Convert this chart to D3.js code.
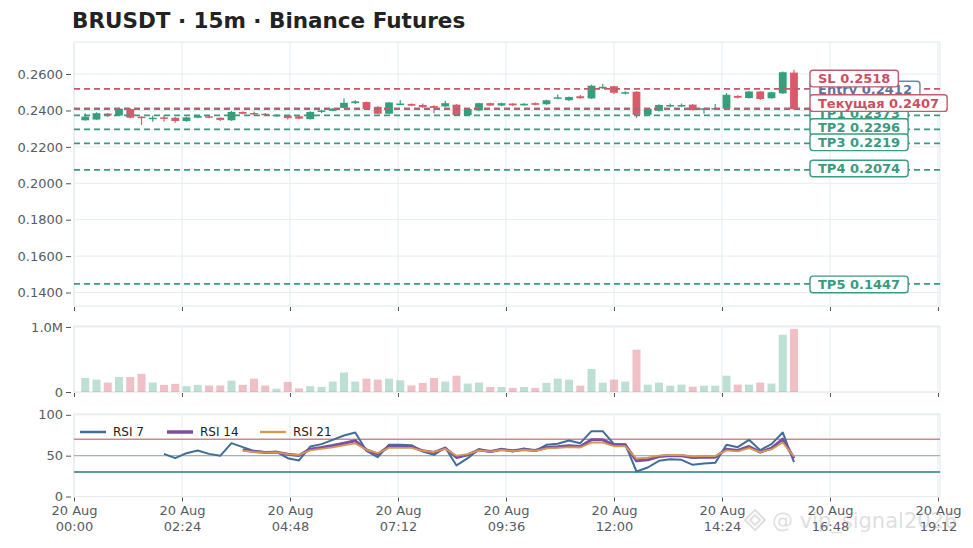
<!DOCTYPE html>
<html><head><meta charset="utf-8">
<script src="https://cdn.jsdelivr.net/npm/d3@7"></script>
<style>
body{margin:0;background:#fff;}
svg{display:block;font-family:"DejaVu Sans",sans-serif;}
</style>
</head><body>
<svg id="c" width="973" height="548"></svg>
<script>
// ---------------- DATA ----------------
const chartTitle = "BRUSDT · 15m · Binance Futures";
const dateLabel = "20 Aug";
const times = ["00:15","00:30","00:45","01:00","01:15","01:30","01:45","02:00","02:15","02:30","02:45","03:00","03:15","03:30","03:45","04:00",
"04:15","04:30","04:45","05:00","05:15","05:30","05:45","06:00","06:15","06:30","06:45","07:00","07:15","07:30","07:45","08:00",
"08:15","08:30","08:45","09:00","09:15","09:30","09:45","10:00","10:15","10:30","10:45","11:00","11:15","11:30","11:45","12:00",
"12:15","12:30","12:45","13:00","13:15","13:30","13:45","14:00","14:15","14:30","14:45","15:00","15:15","15:30","15:45","16:00"];
const open  = [0.2346,0.2350,0.2383,0.2372,0.2408,0.2366,0.2356,0.2362,0.2360,0.2342,0.2360,0.2368,0.2360,0.2346,0.2392,0.2386,
0.2382,0.2370,0.2372,0.2368,0.2352,0.2392,0.2398,0.2414,0.2440,0.2446,0.2420,0.2382,0.2432,0.2436,0.2430,0.2424,
0.2422,0.2432,0.2374,0.2400,0.2440,0.2427,0.2438,0.2428,0.2440,0.2434,0.2464,0.2456,0.2478,0.2466,0.2522,0.2533,
0.2492,0.2503,0.2376,0.2398,0.2422,0.2422,0.2432,0.2406,0.2408,0.2410,0.2480,0.2468,0.2504,0.2467,0.2494,0.2608];
const high  = [0.2385,0.2390,0.2386,0.2415,0.2412,0.2368,0.2372,0.2374,0.2364,0.2366,0.2374,0.2371,0.2362,0.2397,0.2394,0.2394,
0.2386,0.2378,0.2374,0.2372,0.2395,0.2404,0.2413,0.2465,0.2456,0.2449,0.2423,0.2446,0.2458,0.2438,0.2438,0.2428,
0.2454,0.2435,0.2412,0.2443,0.2443,0.2443,0.2440,0.2439,0.2444,0.2459,0.2488,0.2477,0.2485,0.2541,0.2546,0.2536,
0.2506,0.2506,0.2413,0.2434,0.2438,0.2438,0.2435,0.2414,0.2436,0.2496,0.2484,0.2507,0.2507,0.2503,0.2614,0.2624];
const low   = [0.2343,0.2348,0.2366,0.2370,0.2356,0.2320,0.2338,0.2340,0.2332,0.2338,0.2357,0.2357,0.2342,0.2343,0.2379,0.2372,
0.2372,0.2367,0.2350,0.2352,0.2350,0.2386,0.2396,0.2412,0.2436,0.2404,0.2379,0.2380,0.2430,0.2424,0.2414,0.2384,
0.2420,0.2370,0.2371,0.2396,0.2424,0.2424,0.2425,0.2426,0.2428,0.2431,0.2462,0.2452,0.2464,0.2463,0.2518,0.2490,
0.2487,0.2359,0.2372,0.2394,0.2418,0.2418,0.2400,0.2382,0.2406,0.2408,0.2466,0.2465,0.2458,0.2465,0.2491,0.2405];
const close = [0.2366,0.2385,0.2372,0.2410,0.2360,0.2358,0.2360,0.2357,0.2342,0.2362,0.2370,0.2360,0.2348,0.2392,0.2382,0.2380,
0.2376,0.2376,0.2358,0.2355,0.2392,0.2400,0.2410,0.2442,0.2450,0.2408,0.2382,0.2444,0.2438,0.2426,0.2418,0.2414,
0.2440,0.2374,0.2408,0.2440,0.2427,0.2440,0.2428,0.2437,0.2431,0.2456,0.2472,0.2474,0.2467,0.2536,0.2530,0.2497,
0.2500,0.2376,0.2410,0.2430,0.2430,0.2430,0.2402,0.2412,0.2413,0.2486,0.2470,0.2504,0.2463,0.2500,0.2610,0.2407];
const volume = [215000,190000,145000,230000,230000,280000,145000,110000,125000,90000,110000,100000,100000,175000,110000,205000,
100000,50000,155000,55000,90000,80000,160000,300000,160000,205000,190000,205000,180000,100000,140000,215000,
160000,250000,130000,145000,77000,77000,62000,77000,62000,140000,205000,190000,97000,355000,145000,190000,
160000,650000,113000,145000,97000,113000,82000,97000,97000,250000,113000,113000,145000,130000,880000,970000];
const rsi7 = [null,null,null,null,null,null,null,52.2,46.9,53.0,56.3,52.2,49.8,65.3,60.4,55.9,
54.3,54.7,46.9,44.1,61.2,64.1,69.4,74.7,78.4,55.9,48.2,63.3,63.3,62.8,55.1,51.0,
60.0,38.0,46.9,58.0,54.3,58.4,55.1,58.8,55.9,63.3,64.5,68.6,65.3,80.0,80.0,64.1,
64.1,30.6,35.5,43.7,45.7,44.9,38.8,40.4,41.2,63.3,60.4,69.4,56.7,64.1,78.4,42.0];
const rsi14 = [null,null,null,null,null,null,null,null,null,null,null,null,null,null,57.1,55.1,
53.9,54.3,51.8,50.2,58.0,60.0,62.4,65.3,68.2,57.1,51.8,61.2,61.2,61.0,55.9,53.9,
59.2,47.8,51.0,57.1,55.1,57.6,55.9,57.6,56.3,60.0,60.8,62.0,61.2,69.4,69.4,63.3,
63.3,43.7,44.9,49.0,50.2,49.8,47.8,48.2,48.2,58.0,56.3,61.2,54.3,59.2,70.2,46.9];
const rsi21 = [null,null,null,null,null,null,null,null,null,null,null,null,null,null,56.0,54.6,
53.6,54.0,52.0,51.0,56.5,58.2,60.2,62.6,65.0,57.2,53.0,59.5,59.6,59.6,56.0,54.5,
58.4,50.0,52.0,56.5,55.0,57.0,55.5,57.0,56.0,59.0,59.5,60.5,60.0,66.0,66.0,61.5,
61.5,46.5,47.5,50.0,51.0,50.8,49.2,49.4,49.6,56.5,55.2,59.2,54.4,57.6,66.0,49.0];
const levelNames  = ["Entry","TP1","TP2","TP3","TP4","TP5","SL","Текущая"];
const levelValues = [0.2412,0.2373,0.2296,0.2219,0.2074,0.1447,0.2518,0.2407];
const levelKinds  = ["entry","tp","tp","tp","tp","tp","sl","cur"];
const priceTicks = [0.14,0.16,0.18,0.20,0.22,0.24,0.26];
const volTicks = [0,1000000];
const volTickLabels = ["0","1.0M"];
const rsiTicks = [0,50,100];
const rsiLevels = [70,50,30];
const xTickTimes = ["00:00","02:24","04:48","07:12","09:36","12:00","14:24","16:48","19:12"];
const rsiNames = ["RSI 7","RSI 14","RSI 21"];

// ---------------- LAYOUT / STYLE ----------------
const L = 74, R = 940;
const PP = {t:42, b:306}, VP = {t:326, b:392}, RP = {t:414, b:496.5};
const GREEN = "#33a07a", RED = "#d95a68";
const gridC = "#e6ecf0", borderC = "#e1e7ec", tickC = "#555", labC = "#555b64";
const levelStyle = {
  tp:{line:"#3a9a80", text:"#3a9a7e"},
  sl:{line:"#c45a68", text:"#c9505f"},
  cur:{line:"#c45a68", text:"#c9505f"},
  entry:{line:"#6a88a6", text:"#56789a"}
};
const labelNudge = {SL:-10.4, Entry:-18.7, "Текущая":-6.1, TP1:-2.3, TP2:-2.3, TP3:-1.1, TP4:-1.3, TP5:0.5};
const rsiColors = ["#3f6f99","#7e4f9e","#d29a52"];
const rsiWidths = [2,3,1.8];

const toMin = s => { const [h,m] = s.split(":").map(Number); return h*60+m; };
const tMin = times.map(toMin);
const xTicksMin = xTickTimes.map(toMin);

const svg = d3.select("#c");
const x = d3.scaleLinear().domain([0,1154.7]).range([L,R]);
const yP = d3.scaleLinear().domain([0.1326,0.2776]).range([PP.b,PP.t]);
const yV = d3.scaleLinear().domain([0,1015000]).range([VP.b,VP.t]);
const yR = d3.scaleLinear().domain([0,101]).range([RP.b,RP.t]);

// title
svg.append("text").attr("x",72).attr("y",28).attr("font-size",21.5).attr("font-weight","bold")
  .attr("fill","#222").text(chartTitle);

function panel(p, yScale, ticks){
  const g = svg.append("g");
  g.append("rect").attr("x",L).attr("y",p.t).attr("width",R-L).attr("height",p.b-p.t)
    .attr("fill","#fff").attr("stroke",borderC).attr("stroke-width",1);
  g.selectAll("line.vg").data(xTicksMin).join("line").attr("class","vg")
    .attr("x1",d=>x(d)).attr("x2",d=>x(d)).attr("y1",p.t).attr("y2",p.b)
    .attr("stroke",gridC).attr("stroke-width",1);
  g.selectAll("line.hg").data(ticks).join("line").attr("class","hg")
    .attr("x1",L).attr("x2",R).attr("y1",d=>yScale(d)).attr("y2",d=>yScale(d))
    .attr("stroke",gridC).attr("stroke-width",1);
  return g;
}
function styleAxis(g){
  g.select(".domain").remove();
  g.selectAll(".tick line").attr("stroke",tickC).attr("stroke-width",1);
  g.selectAll(".tick text").attr("fill",labC).attr("font-size",13).attr("font-family","DejaVu Sans");
}
function xAxis(yPos, withLabels){
  const ax = d3.axisBottom(x).tickValues(xTicksMin).tickSize(4).tickPadding(6).tickFormat(()=>"");
  const g = svg.append("g").attr("transform",`translate(0,${yPos+1})`).call(ax);
  styleAxis(g);
  if (withLabels){
    g.selectAll(".tick text").each(function(d,i){
      const t = d3.select(this).text(null).attr("y",null).attr("dy",null);
      t.append("tspan").attr("x",0).attr("y",17).text(dateLabel);
      t.append("tspan").attr("x",0).attr("y",33).text(xTickTimes[i]);
    });
  }
}

// ---- price panel
panel(PP, yP, priceTicks);
styleAxis(svg.append("g").attr("transform",`translate(${L-3},0)`)
  .call(d3.axisLeft(yP).tickValues(priceTicks).tickFormat(d3.format(".4f")).tickSize(5).tickPadding(3)));
xAxis(PP.b, false);

const cg = svg.append("g");
const bw = 7.8;
times.forEach((t,i)=>{
  const up = close[i] >= open[i];
  const col = up ? GREEN : RED;
  const cx = x(tMin[i]);
  cg.append("line").attr("x1",cx).attr("x2",cx).attr("y1",yP(high[i])).attr("y2",yP(low[i]))
    .attr("stroke",col).attr("stroke-width",1.2);
  const y1 = yP(Math.max(open[i],close[i])), y2 = yP(Math.min(open[i],close[i]));
  cg.append("rect").attr("x",cx-bw/2).attr("y",y1).attr("width",bw).attr("height",Math.max(1.5,y2-y1))
    .attr("fill",col);
});

// level lines
const lg = svg.append("g");
levelValues.forEach((v,i)=>{
  const st = levelStyle[levelKinds[i]];
  lg.append("line").attr("x1",L).attr("x2",R).attr("y1",yP(v)).attr("y2",yP(v))
    .attr("stroke",st.line).attr("stroke-width",1.7).attr("stroke-dasharray","6,4");
});
// level labels
const lb = svg.append("g");
levelValues.forEach((v,i)=>{
  const name = levelNames[i];
  const st = levelStyle[levelKinds[i]];
  const cy = yP(v) + labelNudge[name];
  const g = lb.append("g");
  const rect = g.append("rect");
  const txt = g.append("text").attr("x",818).attr("y",cy).attr("dy","0.36em")
    .attr("font-size",13).attr("font-weight","bold").attr("fill",st.text)
    .text(name + " " + v.toFixed(4));
  const w = txt.node().getComputedTextLength();
  rect.attr("x",810).attr("y",cy-8.3).attr("width",w+16).attr("height",16.6).attr("rx",3)
    .attr("fill","#fff").attr("stroke",st.line).attr("stroke-width",1.4);
});

// ---- volume panel
panel(VP, yV, volTicks);
styleAxis(svg.append("g").attr("transform",`translate(${L-3},0)`)
  .call(d3.axisLeft(yV).tickValues(volTicks).tickFormat((d,i)=>volTickLabels[i]).tickSize(5).tickPadding(3)));
xAxis(VP.b, false);
svg.append("g").selectAll("rect").data(volume).join("rect")
  .attr("x",(d,i)=>x(tMin[i])-4).attr("width",8)
  .attr("y",d=>yV(d)).attr("height",d=>yV(0)-yV(d))
  .attr("fill",(d,i)=> close[i]>=open[i] ? "rgba(52,160,122,0.32)" : "rgba(217,90,104,0.38)");

// ---- RSI panel
panel(RP, yR, rsiTicks);
styleAxis(svg.append("g").attr("transform",`translate(${L-3},0)`)
  .call(d3.axisLeft(yR).tickValues(rsiTicks).tickSize(5).tickPadding(3)));
xAxis(RP.b, true);
const rlCol = ["#c98a8e","#a3b2bd","#5f9a9c"], rlW = [1.6,1.1,1.8];
rsiLevels.forEach((v,i)=>{
  svg.append("line").attr("x1",L).attr("x2",R).attr("y1",yR(v)).attr("y2",yR(v))
    .attr("stroke",rlCol[i]).attr("stroke-width",rlW[i]);
});
[rsi7,rsi14,rsi21].forEach((arr,k)=>{
  const line = d3.line().defined(d=>d!=null).x((d,i)=>x(tMin[i])).y(d=>yR(d));
  svg.append("path").datum(arr).attr("d",line).attr("fill","none")
    .attr("stroke",rsiColors[k]).attr("stroke-width",rsiWidths[k]).attr("stroke-linejoin","round");
});
// legend
const legX = [80,167,260];
rsiNames.forEach((n,k)=>{
  svg.append("line").attr("x1",legX[k]).attr("x2",legX[k]+26).attr("y1",432).attr("y2",432)
    .attr("stroke",rsiColors[k]).attr("stroke-width",rsiWidths[k]+0.5);
  svg.append("text").attr("x",legX[k]+33).attr("y",432).attr("dy","0.36em").attr("font-size",12)
    .attr("fill","#222").text(n);
});

// watermark (overlaps the last tick labels, as in the reference)
const wm = svg.append("g").attr("opacity",0.3);
wm.append("path").attr("d","M755,510 l10,10 l-10,10 l-10,-10 z M755,515 l5,5 l-5,5 l-5,-5 z")
  .attr("fill","none").attr("stroke","#999").attr("stroke-width",2);
wm.append("text").attr("x",772).attr("y",528).attr("font-size",21).attr("fill","#999")
  .text("@ vip_signal2026");
</script>
</body></html>
